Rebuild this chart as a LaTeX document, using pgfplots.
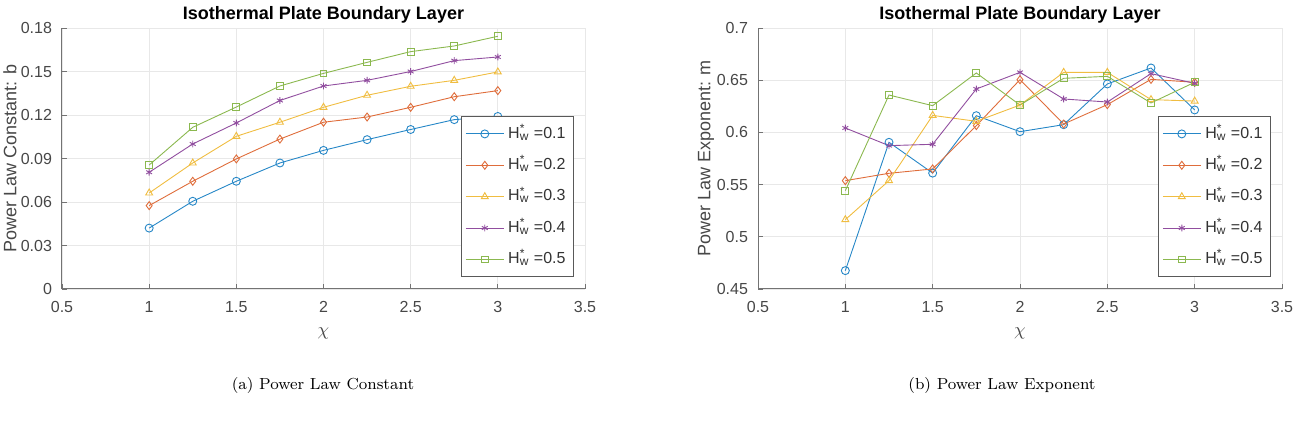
\documentclass[border=0pt]{standalone}
\usepackage{fontspec}
\usepackage{pgfplots}
\pgfplotsset{compat=1.18}
\newfontfamily\hel{Liberation Sans}
\definecolor{c1}{rgb}{0,0.447,0.741}
\definecolor{c2}{rgb}{0.85,0.325,0.098}
\definecolor{c3}{rgb}{0.929,0.694,0.125}
\definecolor{c4}{rgb}{0.494,0.184,0.556}
\definecolor{c5}{rgb}{0.466,0.674,0.188}
\pgfplotsset{
  mystyle/.style={
    width=261.5pt, height=130.5pt, scale only axis,
    xmin=0.5, xmax=3.5,
    xtick={0.5,1,1.5,2,2.5,3,3.5},
    xticklabels={0.5,1,1.5,2,2.5,3,3.5},
    grid=major,
    grid style={black!9, line width=0.4pt},
    axis x line*=bottom, axis y line*=left,
    axis line style={-, black!55, line width=0.5pt},
    tick style={black!55, line width=0.4pt},
    tick align=inside, major tick length=2.5pt,
    /pgf/number format/assume math mode=true,
    tick label style={font=\hel\fontsize{8}{9}\selectfont, text=black!72},
    xticklabel style={yshift=-2.5pt},
    yticklabel style={xshift=-1.5pt},
    label style={font=\hel\fontsize{9}{10}\selectfont, text=black!72},
    xlabel={$\chi$},
    xlabel style={at={(rel axis cs:0.5,0)}, anchor=center, yshift=-22pt},
    ylabel style={at={(rel axis cs:0,0.5)}, anchor=center, yshift=26pt},
    title style={font=\hel\bfseries\fontsize{9}{10}\selectfont, at={(0.5,1)}, anchor=south, yshift=-7pt},
    title={Isothermal Plate Boundary Layer},
    legend style={at={(1,0)}, anchor=south east, xshift=-5.5pt, yshift=6pt,
      draw=black!65, line width=0.5pt, fill=white,
      font=\hel\fontsize{8}{9}\selectfont, text=black!80,
      row sep=4.6pt, inner xsep=2pt, inner ysep=3pt},
    legend cell align=left,
    legend image code/.code={\draw[mark repeat=2,mark phase=2] plot coordinates {(0pt,0pt) (9.5pt,0pt) (19pt,0pt)};},
    every axis plot/.append style={line width=0.45pt, mark size=2pt},
  },
  s1/.style={c1!85!white, mark=o},
  s2/.style={c2!85!white, mark=diamond},
  s3/.style={c3!85!white, mark=triangle},
  s4/.style={c4!85!white, mark=asterisk, mark size=1.7pt},
  s5/.style={c5!85!white, mark=square, mark size=1.7pt},
}
\newcommand{\Hw}[1]{H\rlap{\smash{\textsuperscript{*}}}\smash{\textsubscript{w}} =#1}
\begin{document}
\begin{tikzpicture}
\path[use as bounding box] (0,0) rectangle (651pt,211pt);
\begin{axis}[mystyle, at={(31pt,66.5pt)}, anchor=south west,
  ymin=0, ymax=0.18,
  ytick={0,0.03,0.06,0.09,0.12,0.15,0.18},
  yticklabels={0,0.03,0.06,0.09,0.12,0.15,0.18},
  ylabel={Power Law Constant: b}]
\addplot[s1] coordinates {(1,0.042) (1.25,0.0605) (1.5,0.0743) (1.75,0.0869) (2,0.0956) (2.25,0.103) (2.5,0.110) (2.75,0.1168) (3,0.119)};
\addplot[s2] coordinates {(1,0.0575) (1.25,0.0743) (1.5,0.0897) (1.75,0.1034) (2,0.115) (2.25,0.1186) (2.5,0.1253) (2.75,0.1326) (3,0.1368)};
\addplot[s3] coordinates {(1,0.0662) (1.25,0.0869) (1.5,0.1053) (1.75,0.115) (2,0.1253) (2.25,0.1336) (2.5,0.1398) (2.75,0.1439) (3,0.1497)};
\addplot[s4] coordinates {(1,0.0805) (1.25,0.100) (1.5,0.1145) (1.75,0.130) (2,0.140) (2.25,0.1439) (2.5,0.150) (2.75,0.1575) (3,0.160)};
\addplot[s5] coordinates {(1,0.0855) (1.25,0.1115) (1.5,0.1255) (1.75,0.140) (2,0.1487) (2.25,0.1563) (2.5,0.1637) (2.75,0.1676) (3,0.1743)};
\legend{\Hw{0.1},\Hw{0.2},\Hw{0.3},\Hw{0.4},\Hw{0.5}}
\end{axis}
\begin{axis}[mystyle, at={(379pt,66.5pt)}, anchor=south west, width=262pt,
  ymin=0.45, ymax=0.7,
  ytick={0.45,0.5,0.55,0.6,0.65,0.7},
  yticklabels={0.45,0.5,0.55,0.6,0.65,0.7},
  ylabel={Power Law Exponent: m}]
\addplot[s1] coordinates {(1,0.4676) (1.25,0.5905) (1.5,0.561) (1.75,0.616) (2,0.6007) (2.25,0.6074) (2.5,0.6464) (2.75,0.6617) (3,0.6215)};
\addplot[s2] coordinates {(1,0.5538) (1.25,0.5608) (1.5,0.565) (1.75,0.6065) (2,0.6505) (2.25,0.608) (2.5,0.6266) (2.75,0.6508) (3,0.648)};
\addplot[s3] coordinates {(1,0.5164) (1.25,0.5538) (1.5,0.6163) (1.75,0.6106) (2,0.6262) (2.25,0.6575) (2.5,0.6575) (2.75,0.6314) (3,0.630)};
\addplot[s4] coordinates {(1,0.6042) (1.25,0.5873) (1.5,0.5886) (1.75,0.6416) (2,0.6575) (2.25,0.632) (2.5,0.6291) (2.75,0.6563) (3,0.647)};
\addplot[s5] coordinates {(1,0.5442) (1.25,0.6358) (1.5,0.6256) (1.75,0.6569) (2,0.6262) (2.25,0.6518) (2.5,0.6537) (2.75,0.6282) (3,0.648)};
\legend{\Hw{0.1},\Hw{0.2},\Hw{0.3},\Hw{0.4},\Hw{0.5}}
\end{axis}
\node[font=\fontsize{8}{10}\selectfont] at (161.5pt,18pt) {(a) Power Law Constant};
\node[font=\fontsize{8}{10}\selectfont] at (501pt,18pt) {(b) Power Law Exponent};
\end{tikzpicture}
\end{document}
